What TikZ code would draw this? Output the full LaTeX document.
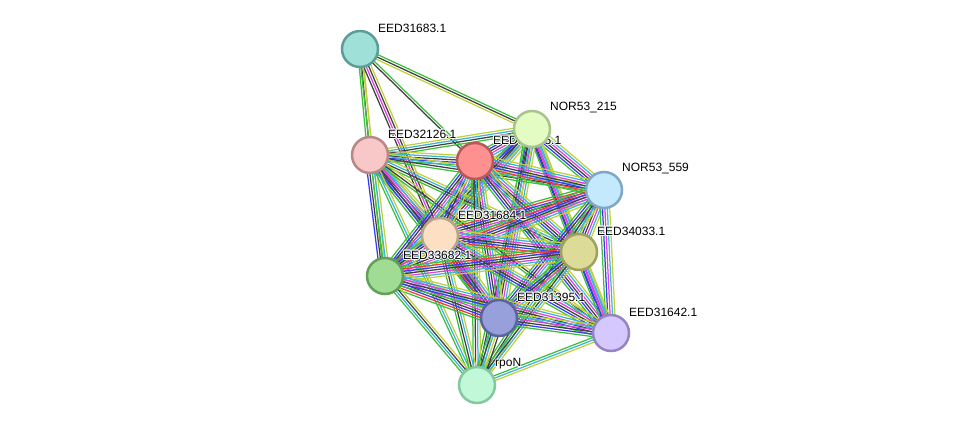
\documentclass[tikz,border=0pt]{standalone}
\usepackage{fontspec}
\setmainfont{Liberation Sans}
\usetikzlibrary{calc}
\pgfdeclarelayer{edges}
\pgfsetlayers{edges,main}

% evidence colours
\definecolor{grn}{HTML}{3CC03C}
\definecolor{blk}{HTML}{404040}
\definecolor{ylw}{HTML}{C2D13A}
\definecolor{mag}{HTML}{E040E0}
\definecolor{blu}{HTML}{3A3AF0}
\definecolor{cyn}{HTML}{3CB4DC}
\definecolor{rd}{HTML}{F03C3C}
\definecolor{lav}{HTML}{A89CF0}

% protein colours (fill, rim)
\definecolor{cA}{HTML}{9FE0D8}\definecolor{rA}{HTML}{5C9E97}
\definecolor{cB}{HTML}{E2FCC4}\definecolor{rB}{HTML}{A8C48C}
\definecolor{cC}{HTML}{F8C8C8}\definecolor{rC}{HTML}{B88888}
\definecolor{cD}{HTML}{FF9090}\definecolor{rD}{HTML}{B85858}
\definecolor{cE}{HTML}{C4E8FC}\definecolor{rE}{HTML}{80A8C4}
\definecolor{cF}{HTML}{FDE0C4}\definecolor{rF}{HTML}{B8A488}
\definecolor{cG}{HTML}{DCDC98}\definecolor{rG}{HTML}{A0A060}
\definecolor{cH}{HTML}{A0DC94}\definecolor{rH}{HTML}{60A058}
\definecolor{cI}{HTML}{98A0DC}\definecolor{rI}{HTML}{5C64A0}
\definecolor{cJ}{HTML}{D4C8FC}\definecolor{rJ}{HTML}{9484C4}
\definecolor{cK}{HTML}{C0F8D8}\definecolor{rK}{HTML}{84C8A0}

% one bundle of parallel lines between two proteins
\newcommand{\link}[3]{%
  \foreach \c [count=\n] in {#3} {\xdef\nlines{\n}}%
  \foreach \c [count=\i] in {#3} {%
    \pgfmathsetmacro{\off}{(\i-(\nlines+1)/2)*2.4}%
    \draw[draw=\c, line width=1.25pt] ($(#1)!\off pt!90:(#2)$) -- ($(#2)!\off pt!-90:(#1)$);
  }}

% white glow behind a label
\newcommand{\glowtxt}[1]{%
  \rlap{\color{white}\hspace{-0.9pt}#1}\rlap{\color{white}\hspace{0.9pt}#1}%
  \rlap{\color{white}\raisebox{0.9pt}{#1}}\rlap{\color{white}\raisebox{-0.9pt}{#1}}%
  \rlap{\color{white}\hspace{0.7pt}\raisebox{0.7pt}{#1}}\rlap{\color{white}\hspace{-0.7pt}\raisebox{-0.7pt}{#1}}%
  \rlap{\color{white}\hspace{0.7pt}\raisebox{-0.7pt}{#1}}\rlap{\color{white}\hspace{-0.7pt}\raisebox{0.7pt}{#1}}%
  #1}

\tikzset{
  prot/.style={circle, draw=r#1, fill=c#1, line width=2.5pt, minimum size=36pt, inner sep=0pt},
  lbl/.style={anchor=west, inner sep=0pt, font=\fontsize{12}{13}\selectfont}
}

\begin{document}
\begin{tikzpicture}[x=1pt, y=-1pt]
    \useasboundingbox (0,0) rectangle (975,431);

    % proteins
    \node[prot=A] (A) at (360,49) {};
    \node[lbl] at ([shift={(18,-21)}]A.center) {\glowtxt{EED31683.1}};
    \node[prot=C] (C) at (370,155) {};
    \node[lbl] at ([shift={(18,-21)}]C.center) {\glowtxt{EED32126.1}};
    \node[prot=D] (D) at (475,161) {};
    \node[lbl] at ([shift={(18,-21)}]D.center) {\glowtxt{EED31685.1}};
    \node[prot=B] (B) at (532,129) {};
    \node[lbl] at ([shift={(18,-21)}]B.center) {\glowtxt{NOR53\_215}};
    \node[prot=E] (E) at (604,190) {};
    \node[lbl] at ([shift={(18,-21)}]E.center) {\glowtxt{NOR53\_559}};
    \node[prot=F] (F) at (440,236) {};
    \node[lbl] at ([shift={(18,-21)}]F.center) {\glowtxt{EED31684.1}};
    \node[prot=G] (G) at (579,252) {};
    \node[lbl] at ([shift={(18,-21)}]G.center) {\glowtxt{EED34033.1}};
    \node[prot=H] (H) at (385,276) {};
    \node[lbl] at ([shift={(18,-21)}]H.center) {\glowtxt{EED33682.1}};
    \node[prot=I] (I) at (499,318) {};
    \node[lbl] at ([shift={(18,-21)}]I.center) {\glowtxt{EED31395.1}};
    \node[prot=J] (J) at (611,333) {};
    \node[lbl] at ([shift={(18,-21)}]J.center) {\glowtxt{EED31642.1}};
    \node[prot=K] (K) at (477,385) {};
    \node[lbl] at ([shift={(18,-21)}]K.center) {\glowtxt{rpoN}};

    % interactions
    \begin{pgfonlayer}{edges}
    \link{A}{B}{ylw,blk,grn}
    \link{A}{C}{grn,blk,ylw}
    \link{A}{D}{blk,grn}
    \link{A}{F}{blk,mag,blk,ylw}
    \link{A}{H}{grn,ylw}
    \link{B}{C}{ylw,cyn,blk,grn}
    \link{B}{D}{grn,blu,blk,mag,cyn,ylw}
    \link{B}{E}{grn,blu,blk,mag,cyn,ylw}
    \link{B}{F}{grn,blu,blk,mag,cyn,ylw}
    \link{B}{G}{grn,blk,mag,cyn,ylw}
    \link{B}{H}{grn,blu,blk,cyn,ylw}
    \link{B}{I}{grn,blu,blk,mag,cyn,ylw}
    \link{B}{J}{blu,mag,cyn,ylw}
    \link{B}{K}{grn,blk,cyn,ylw}
    \link{C}{D}{grn,blu,blk,cyn,ylw}
    \link{C}{E}{grn,blk,cyn,ylw}
    \link{C}{F}{grn,blu,blk,mag,cyn,ylw}
    \link{C}{G}{grn,blk,cyn,ylw}
    \link{C}{H}{blu,blk,grn,cyn,ylw}
    \link{C}{I}{grn,blu,blk,mag,cyn,ylw}
    \link{C}{J}{grn,blk,ylw}
    \link{C}{K}{grn,cyn,ylw}
    \link{D}{E}{grn,rd,blu,blk,mag,cyn,ylw}
    \link{D}{F}{grn,blu,blk,mag,cyn,ylw}
    \link{D}{G}{grn,blu,blk,mag,cyn,ylw}
    \link{D}{H}{grn,blu,blk,mag,cyn,ylw}
    \link{D}{I}{grn,blu,blk,mag,cyn,ylw}
    \link{D}{J}{grn,blu,blk,mag,cyn,ylw}
    \link{D}{K}{grn,blk,cyn,ylw}
    \link{E}{F}{grn,rd,blu,blk,mag,cyn,ylw}
    \link{E}{G}{grn,blu,blk,mag,cyn,ylw}
    \link{E}{H}{grn,rd,blu,blk,mag,cyn,ylw}
    \link{E}{I}{grn,blu,blk,mag,cyn,ylw}
    \link{E}{J}{grn,blu,mag,cyn,ylw}
    \link{E}{K}{grn,blk,cyn,ylw}
    \link{F}{G}{grn,rd,blu,blk,mag,cyn,ylw}
    \link{F}{H}{grn,blu,blk,mag,cyn,ylw}
    \link{F}{I}{grn,rd,blu,blk,mag,cyn,ylw}
    \link{F}{J}{grn,blu,blk,mag,cyn,ylw}
    \link{F}{K}{grn,blk,cyn,ylw}
    \link{G}{H}{grn,rd,blu,blk,mag,cyn,ylw}
    \link{G}{I}{grn,blu,blk,mag,cyn,ylw}
    \link{G}{J}{grn,blu,mag,cyn,ylw}
    \link{G}{K}{grn,blk,cyn,ylw}
    \link{H}{I}{grn,rd,blu,blk,mag,lav,cyn,ylw}
    \link{H}{J}{grn,blu,blk,mag,cyn,ylw}
    \link{H}{K}{grn,cyn,blk,ylw}
    \link{I}{J}{grn,blu,blk,mag,cyn,ylw}
    \link{I}{K}{grn,blk,cyn,ylw,blk}
    \link{J}{K}{grn,cyn,ylw}
    \end{pgfonlayer}
\end{tikzpicture}
\end{document}
